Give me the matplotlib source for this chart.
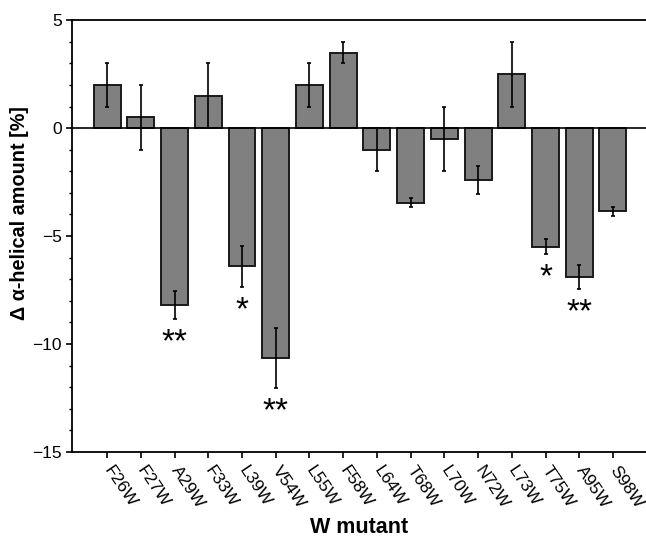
import matplotlib
matplotlib.use("Agg")
import matplotlib.pyplot as plt
from matplotlib.ticker import MultipleLocator
import numpy as np

plt.rcParams['font.family'] = ['Liberation Sans', 'DejaVu Sans']

mutants = ["F26W", "F27W", "A29W", "F33W", "L39W", "V54W", "L55W", "F58W",
           "L64W", "T68W", "L70W", "N72W", "L73W", "T75W", "A95W", "S98W"]
values = [2.0, 0.5, -8.2, 1.5, -6.4, -10.65, 2.0, 3.5,
          -1.0, -3.45, -0.5, -2.42, 2.5, -5.5, -6.9, -3.85]
errors = [1.0, 1.5, 0.65, 1.5, 0.95, 1.4, 1.0, 0.5,
          1.0, 0.2, 1.5, 0.65, 1.5, 0.35, 0.55, 0.2]
significance = ["", "", "**", "", "*", "**", "", "",
                "", "", "", "", "", "*", "**", ""]

fig = plt.figure(figsize=(6.46, 5.44), dpi=100)
ax = fig.add_axes([0.1115, 0.169, 0.8885, 0.794])

x = np.arange(len(mutants))
ax.bar(x, values, width=0.8, color='#808080', edgecolor='#1a1a1a', linewidth=1.4, zorder=2)
ax.errorbar(x, values, yerr=errors, fmt='none', ecolor='black', elinewidth=1.2,
            capsize=1.5, capthick=1.2, zorder=3)
ax.axhline(0, color='black', linewidth=1.2, zorder=4)

for xi, v, e, s in zip(x, values, errors, significance):
    if s:
        ax.text(xi, v - e - 1.48, s, ha='center', va='baseline', fontsize=24, zorder=5)

ax.set_xlim(-1.04, 15.98)
ax.set_ylim(-15, 5)
ax.yaxis.set_minor_locator(MultipleLocator(1))
ax.set_yticks([5, 0, -5, -10, -15])
ax.set_yticklabels(["5", "0", "\u22125", "\u221210", "\u221215"])
ax.set_xticks(x)
ax.set_xticklabels(mutants, rotation=-56, ha='left', va='center', rotation_mode='anchor')
ax.tick_params(axis='both', direction='out', labelsize=12.5, width=1.2, length=4)
ax.tick_params(axis='y', which='minor', direction='out', width=1.0, length=2.5)
ax.tick_params(axis='x', pad=7)
ax.spines['right'].set_visible(False)
for sp in ['top', 'left', 'bottom']:
    ax.spines[sp].set_linewidth(1.3)

ax.set_ylabel("\u0394 \u03b1-helical amount [%]", fontsize=14.3, fontweight='bold')
ax.yaxis.set_label_coords(-0.075, 0.553)
ax.set_xlabel("W mutant", fontsize=15.5, fontweight='bold')
ax.xaxis.set_label_coords(0.5, -0.150)

fig.savefig("out.png", dpi=100)
